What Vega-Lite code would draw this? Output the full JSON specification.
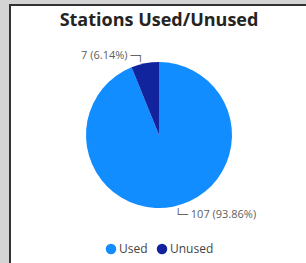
{
  "$schema": "https://vega.github.io/schema/vega-lite/v6.json",
  "width": 298,
  "height": 260,
  "autosize": {"type": "none"},
  "padding": {"left": 10, "top": 5, "right": 0, "bottom": 0},
  "background": "#d4d4d4",
  "view": {"fill": "white", "stroke": "#333333", "strokeWidth": 2},
  "title": {
    "text": "Stations Used/Unused",
    "font": "Open Sans",
    "fontSize": 18,
    "fontWeight": "bold",
    "color": "#252423",
    "anchor": "middle",
    "offset": -25
  },
  "config": {
    "legend": {
      "title": null,
      "orient": "bottom",
      "direction": "horizontal",
      "offset": -22,
      "layout": {"bottom": {"anchor": "middle"}},
      "symbolType": "circle",
      "symbolSize": 110,
      "symbolStrokeWidth": 0,
      "labelFont": "Open Sans",
      "labelFontSize": 12,
      "labelColor": "#444444",
      "labelOffset": 2,
      "columnPadding": 8,
      "padding": 0
    }
  },
  "data": {
    "values": [
      {"status": "Used", "count": 107, "idx": 1, "lblL": "└─ 107 (93.86%)", "lblR": ""},
      {"status": "Unused", "count": 7, "idx": 2, "lblL": "", "lblR": "7 (6.14%) ─┐"}
    ]
  },
  "encoding": {
    "theta": {"field": "count", "type": "quantitative", "stack": true},
    "order": {"field": "idx", "type": "quantitative"}
  },
  "layer": [
    {
      "mark": {"type": "arc", "outerRadius": 73},
      "encoding": {
        "color": {
          "field": "status",
          "type": "nominal",
          "scale": {"domain": ["Used", "Unused"], "range": ["#118DFF", "#12239E"]}
        }
      }
    },
    {
      "mark": {"type": "text", "radius": 80, "align": "right", "baseline": "middle", "fontSize": 11, "color": "#605E5C", "font": "Open Sans, DejaVu Sans"},
      "encoding": {"text": {"field": "lblR", "type": "nominal"}}
    },
    {
      "mark": {"type": "text", "radius": 82, "align": "left", "baseline": "middle", "fontSize": 11, "color": "#605E5C", "font": "Open Sans, DejaVu Sans"},
      "encoding": {"text": {"field": "lblL", "type": "nominal"}}
    }
  ]
}
